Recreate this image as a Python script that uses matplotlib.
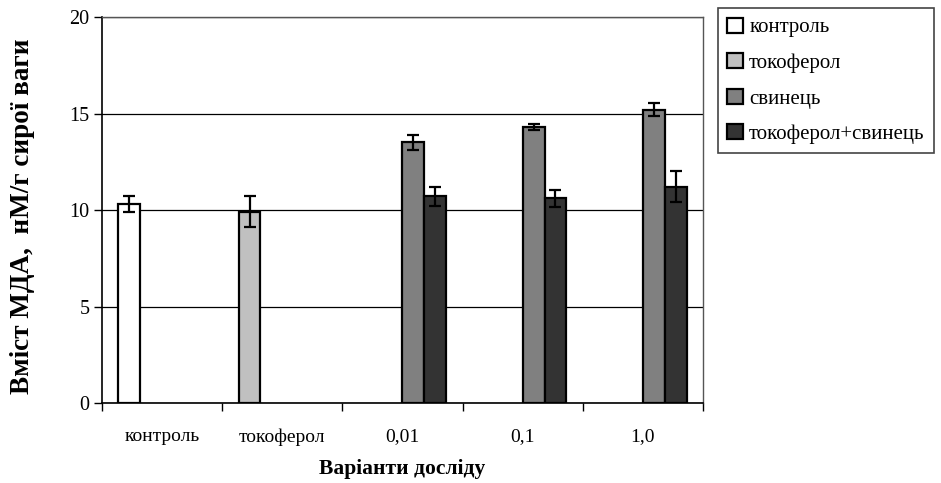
import numpy as np
import matplotlib.pyplot as plt

plt.rcParams['font.family'] = ['Liberation Serif', 'DejaVu Serif']

categories = ['контроль', 'токоферол', '0,01', '0,1', '1,0']
series = ['контроль', 'токоферол', 'свинець', 'токоферол+свинець']
colors = ['#ffffff', '#c0c0c0', '#808080', '#333333']

# values per series, nan where no bar
kontrol = [10.3, np.nan, np.nan, np.nan, np.nan]
kontrol_err = [0.4, 0, 0, 0, 0]
tokoferol = [np.nan, 9.9, np.nan, np.nan, np.nan]
tokoferol_err = [0, 0.8, 0, 0, 0]
svynets = [np.nan, np.nan, 13.5, 14.3, 15.2]
svynets_err = [0, 0, 0.4, 0.15, 0.35]
tok_svyn = [np.nan, np.nan, 10.7, 10.6, 11.2]
tok_svyn_err = [0, 0, 0.5, 0.45, 0.8]

values = [kontrol, tokoferol, svynets, tok_svyn]
errors = [kontrol_err, tokoferol_err, svynets_err, tok_svyn_err]
slots = [-1.5, -1.5, 0.5, 1.5]   # where each series sits inside a category

fig = plt.figure(figsize=(9.41, 4.83), dpi=100)
ax = fig.add_axes([0.1084, 0.1656, 0.747 - 0.1084, 0.9648 - 0.1656])

x = np.arange(len(categories))
w = 1 / 5.5
for i in range(4):
    v = np.array(values[i], dtype=float)
    e = np.array(errors[i], dtype=float)
    m = ~np.isnan(v)
    ax.bar(x[m] + slots[i] * w, v[m], w, color=colors[i], edgecolor='black',
           linewidth=1.6, label=series[i], zorder=3)
    ax.errorbar(x[m] + slots[i] * w, v[m], yerr=e[m], fmt='none', ecolor='black',
                elinewidth=1.6, capsize=4.3, capthick=1.6, zorder=4)

ax.set_xlim(-0.5, len(categories) - 0.5)
ax.set_ylim(0, 20)
ax.set_yticks([0, 5, 10, 15, 20])
ax.yaxis.grid(True, color='black', linewidth=0.9, zorder=0)
ax.set_axisbelow(True)
ax.set_xticks(x)
ax.set_xticklabels(categories, fontsize=14)
ax.set_xticks(np.arange(len(categories) + 1) - 0.5, minor=True)
ax.tick_params(axis='x', which='major', length=0, pad=18)
ax.tick_params(axis='x', which='minor', length=6, width=1, direction='out')
ax.tick_params(axis='y', length=6, width=1, direction='out', labelsize=14.5, pad=3)
for s in ['left', 'bottom']:
    ax.spines[s].set_color('black')
    ax.spines[s].set_linewidth(1.2)
for s in ['top', 'right']:
    ax.spines[s].set_color('#555555')
    ax.spines[s].set_linewidth(1)

ax.set_xlabel('Варіанти досліду', fontsize=15.5, fontweight='bold', labelpad=10)
ax.set_ylabel('Вміст МДА,  нМ/г сирої ваги', fontsize=19.5, fontweight='bold')
ax.yaxis.set_label_coords(-0.112, 0.485)

leg = fig.legend(loc='upper left', bbox_to_anchor=(0.763, 0.983), fontsize=15,
                 frameon=True, fancybox=False, edgecolor='#444444', framealpha=1,
                 handlelength=0.75, handleheight=0.75, handletextpad=0.3,
                 labelspacing=0.75, borderpad=0.45, borderaxespad=0)
leg.get_frame().set_linewidth(1.2)

fig.savefig('out.png', dpi=100)
